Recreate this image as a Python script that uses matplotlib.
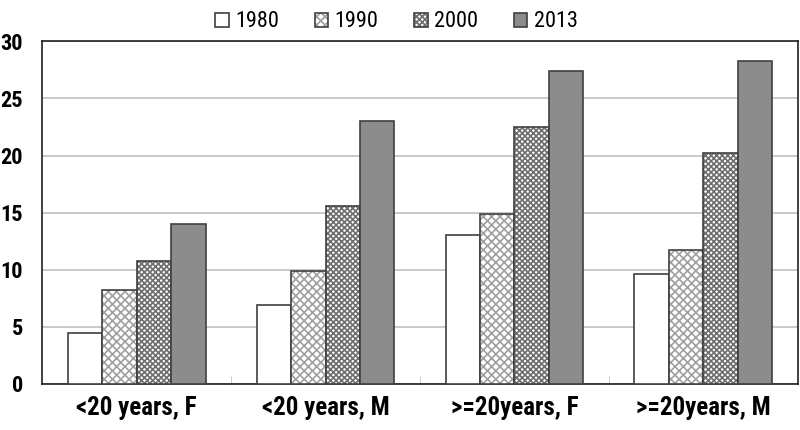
import numpy as np
import matplotlib
matplotlib.use('Agg')
import matplotlib.pyplot as plt

plt.rcParams['font.family'] = ['Roboto Condensed', 'Liberation Sans', 'DejaVu Sans']

# data
categories = ['<20 years, F', '<20 years, M', '>=20years, F', '>=20years, M']
years = ['1980', '1990', '2000', '2013']
v1980 = [4.5, 6.9, 13.0, 9.6]
v1990 = [8.2, 9.9, 14.9, 11.7]
v2000 = [10.8, 15.6, 22.5, 20.2]
v2013 = [14.0, 23.0, 27.4, 28.3]
series = [v1980, v1990, v2000, v2013]

faces = ['white', 'white', 'white', '#8c8c8c']
hatches = [None, 'xxxx', 'xxxxxx', None]
hcolors = ['#555555', '#a0a0a0', '#6e6e6e', '#555555']

fig = plt.figure(figsize=(8, 4.3), dpi=100)
ax = fig.add_axes([0.053, 0.107, 0.944, 0.797])

x = np.arange(len(categories))
w = 0.182
plt.rcParams['hatch.linewidth'] = 1.2
handles = []
for i, vals in enumerate(series):
    plt.rcParams['hatch.color'] = hcolors[i]
    b = ax.bar(x + (i - 1.5) * w, vals, w, color=faces[i], hatch=hatches[i],
               edgecolor='#404040', linewidth=1.2, label=years[i], zorder=3)
    for p in b:
        p._hatch_color = matplotlib.colors.to_rgba(hcolors[i])
    handles.append(b)

ax.set_xlim(-0.5, len(categories) - 0.5)
ax.set_ylim(0, 30)
ax.set_yticks(np.arange(0, 31, 5))
ax.yaxis.grid(True, color='#c0c0c0', linewidth=1.2, zorder=0)
ax.set_axisbelow(True)
ax.tick_params(axis='y', length=0, labelsize=16, pad=14)
ax.set_xticks(x)
ax.set_xticklabels(categories, fontsize=18, fontweight='bold')
ax.tick_params(axis='x', length=0, pad=9)
ax.set_xticks(np.arange(0.5, len(categories) - 1, 1), minor=True)
ax.tick_params(axis='x', which='minor', direction='in', length=6, color='#c0c0c0')
for lab in ax.get_yticklabels():
    lab.set_fontweight('bold')
for s in ax.spines.values():
    s.set_color('#202020')
    s.set_linewidth(1.2)

ax.legend(handles=handles, loc='lower center', bbox_to_anchor=(0.469, 1.0), ncol=4,
          frameon=False, fontsize=16, handlelength=0.6, handleheight=0.6,
          columnspacing=1.6, handletextpad=0.3, borderaxespad=0.0)

fig.savefig('out.png', dpi=100)
